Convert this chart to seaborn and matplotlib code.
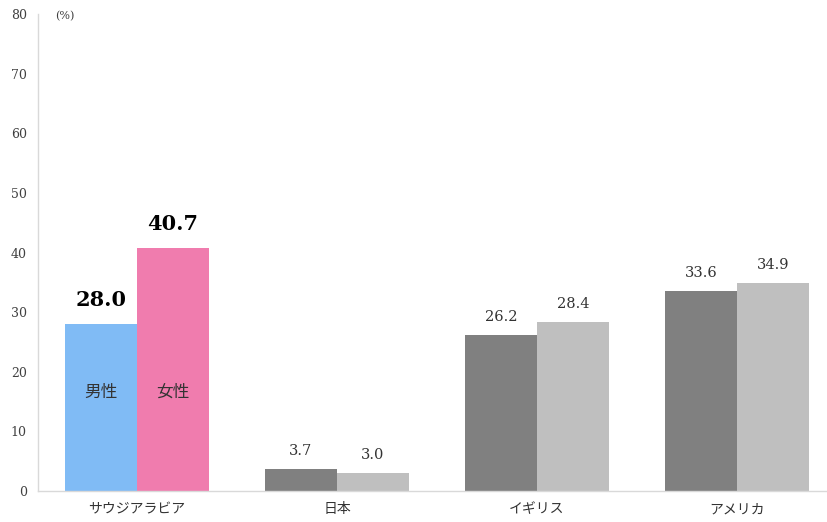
import matplotlib
matplotlib.use("Agg")
import matplotlib.pyplot as plt
import seaborn as sns
import pandas as pd

categories = ["サウジアラビア", "日本", "イギリス", "アメリカ"]
genders = ["男性", "女性"]
male_values = [28.0, 3.7, 26.2, 33.6]
female_values = [40.7, 3.0, 28.4, 34.9]
y_ticks = [0, 10, 20, 30, 40, 50, 60, 70, 80]

sns.set_theme(style="white")
plt.rcParams['font.family'] = ['DejaVu Serif', 'Noto Sans CJK JP', 'DejaVu Sans']

rows = []
for c, m, f in zip(categories, male_values, female_values):
    rows.append({"country": c, "gender": genders[0], "value": m})
    rows.append({"country": c, "gender": genders[1], "value": f})
df = pd.DataFrame(rows)

fig = plt.figure(figsize=(8.28, 5.22), dpi=100)
ax = fig.add_axes([38 / 828, 31 / 522, 798 / 828, 477 / 522])

sns.barplot(data=df, x="country", y="value", hue="gender", order=categories,
            hue_order=genders, palette=["#808080", "#bfbfbf"], width=0.72,
            gap=0, dodge=True, ax=ax, legend=False, saturation=1)

n = len(categories)
bars = ax.patches[:2 * n]
# recolor Saudi Arabia bars
bars[0].set_facecolor("#80bbf5")
bars[n].set_facecolor("#f07cae")
for b in bars:
    b.set_edgecolor("none")

for i, b in enumerate(bars):
    cat = i % n
    val = male_values[cat] if i < n else female_values[cat]
    xc = b.get_x() + b.get_width() / 2
    if cat == 0:
        ax.annotate(f"{val:.1f}", (xc, val), xytext=(0, 10), textcoords="offset points",
                    ha="center", va="bottom", fontsize=15, fontweight="bold", color="black")
        ax.text(xc, 16.5, genders[0] if i < n else genders[1], ha="center", va="center",
                fontsize=12, color="#333333", family=['Noto Sans CJK JP', 'DejaVu Sans'])
    else:
        ax.annotate(f"{val:.1f}", (xc, val), xytext=(0, 8), textcoords="offset points",
                    ha="center", va="bottom", fontsize=10.5, color="#333333")

ax.set_ylim(0, 80)
ax.set_xlim(-0.495, n - 0.505)
ax.set_yticks(y_ticks)
ax.set_xlabel("")
ax.set_ylabel("")
for s in ["top", "right"]:
    ax.spines[s].set_visible(False)
for s in ["left", "bottom"]:
    ax.spines[s].set_color("#d9d9d9")
    ax.spines[s].set_linewidth(1)
ax.tick_params(axis="y", length=4, color="#d9d9d9", labelsize=9, labelcolor="#404040", pad=4)
ax.tick_params(axis="x", length=0, labelsize=10, labelcolor="#333333", pad=8)
for lbl in ax.get_xticklabels():
    lbl.set_family(['Noto Sans CJK JP', 'DejaVu Sans'])
ax.text(0.022, 79.6, "(%)", transform=ax.get_yaxis_transform(), fontsize=8, color="#404040",
        ha="left", va="center")

fig.savefig("out.png", dpi=100)
